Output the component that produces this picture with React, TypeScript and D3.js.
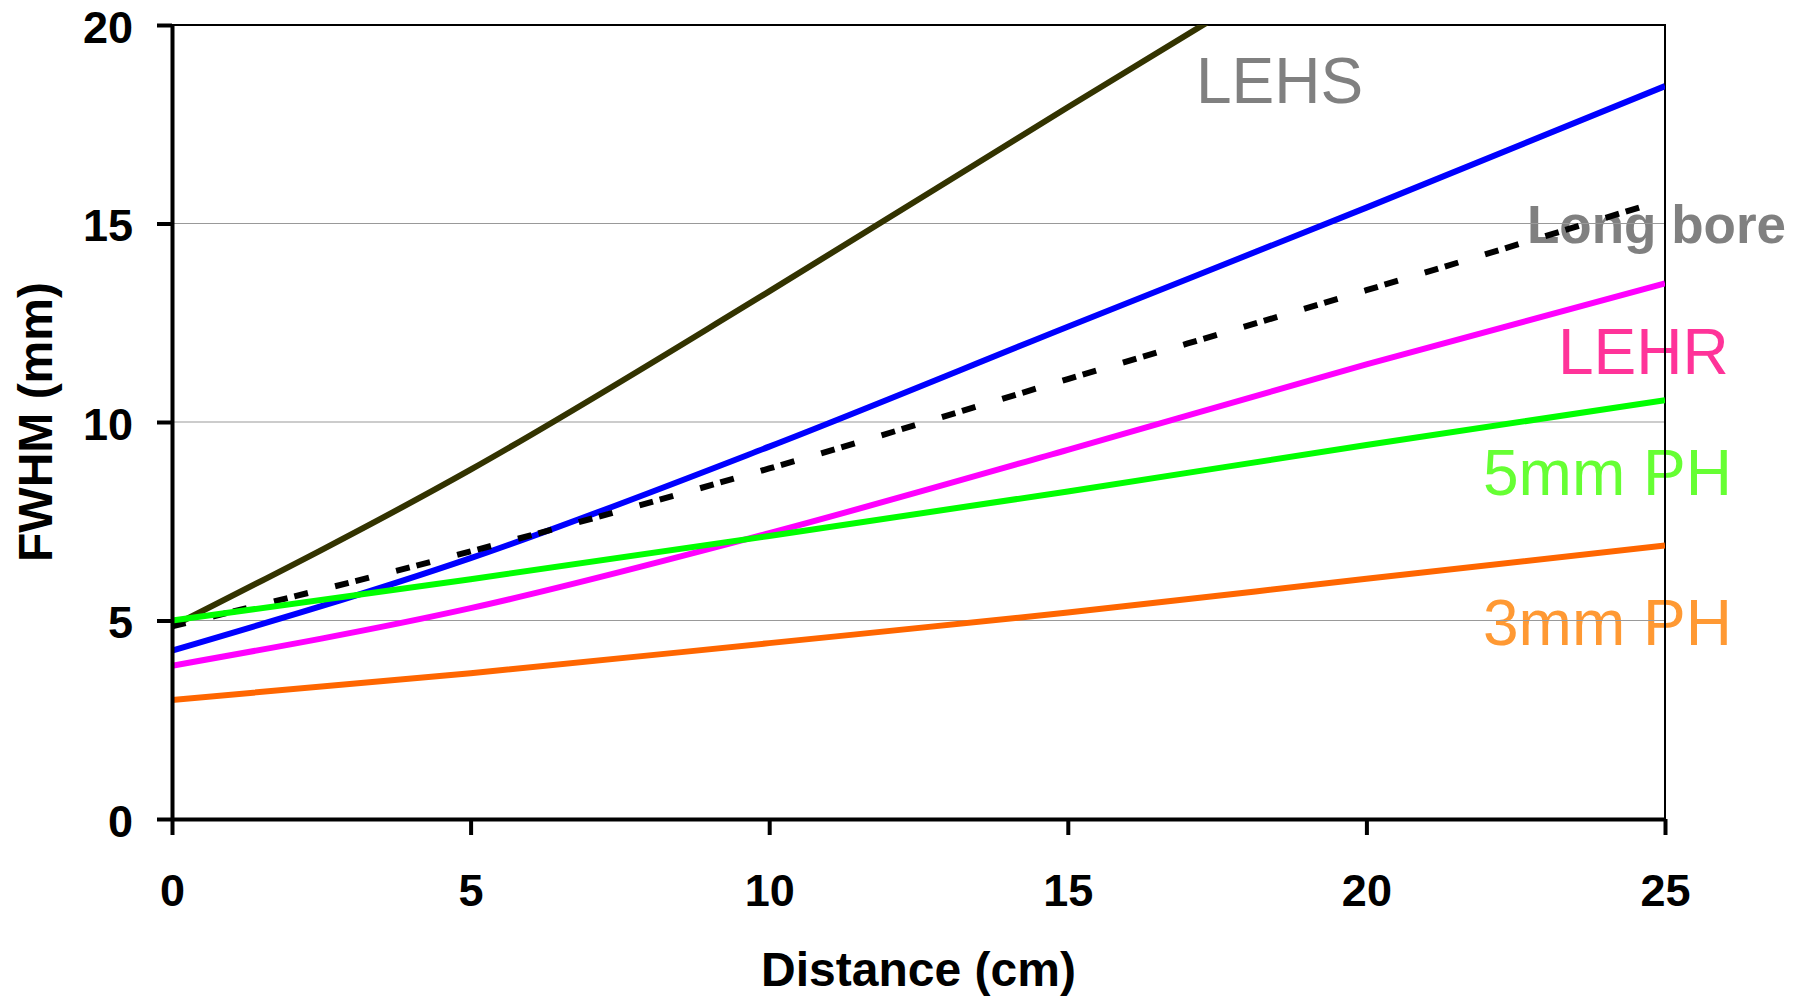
import React, { useRef, useEffect } from "react";
import * as d3 from "d3";

// distance from collimator face (cm) and FWHM (mm)
const distance = [0, 5, 10, 15, 20, 25];
const lehs = [4.85, 8.8, 13.29, 17.93, 22.5, 27.1];
const blueCurve = [4.24, 6.57, 9.38, 12.4, 15.4, 18.46];
const longBore = [4.85, 6.74, 8.83, 11.08, 13.32, 15.6];
const lehr = [3.86, 5.31, 7.2, 9.3, 11.45, 13.49];
const pinhole5 = [5.0, 6.04, 7.13, 8.25, 9.42, 10.55];
const pinhole3 = [3.0, 3.67, 4.43, 5.2, 6.05, 6.89];

const xTicks = [0, 5, 10, 15, 20, 25];
const yTicks = [0, 5, 10, 15, 20];

const W = 1794;
const H = 997;
const margin = { top: 25, right: 129, bottom: 178, left: 172 };
const FONT = "'Liberation Sans', Arial, Helvetica, sans-serif";

const series = [
  { values: lehs, color: "#333300", dash: null },
  { values: blueCurve, color: "#0000FF", dash: null },
  { values: longBore, color: "#000000", dash: "14 28 14 7" },
  { values: lehr, color: "#FF00FF", dash: null },
  { values: pinhole5, color: "#00FF00", dash: null },
  { values: pinhole3, color: "#FF6600", dash: null },
];

const labels = [
  { text: "LEHS", x: 1196, y: 103, color: "#808080", weight: "normal", size: 64 },
  { text: "Long bore", x: 1527, y: 243, color: "#808080", weight: "bold", size: 53 },
  { text: "LEHR", x: 1558, y: 374, color: "#FF3399", weight: "normal", size: 64 },
  { text: "5mm PH", x: 1483, y: 495, color: "#66FF33", weight: "normal", size: 64 },
  { text: "3mm PH", x: 1483, y: 645, color: "#FF9933", weight: "normal", size: 64 },
];

const App = () => {
  const svgRef = useRef<SVGSVGElement>(null);

  useEffect(() => {
    const svg = d3.select(svgRef.current);
    svg.selectAll("*").remove();

    const x0 = margin.left;
    const x1 = W - margin.right;
    const y0 = H - margin.bottom;
    const y1 = margin.top;

    const xScale = d3.scaleLinear().domain([0, 25]).range([x0, x1]);
    const yScale = d3.scaleLinear().domain([0, 20]).range([y0, y1]);

    svg.append("rect").attr("width", W).attr("height", H).attr("fill", "#fff");

    // series labels sit under the plot lines
    svg
      .selectAll(".lab")
      .data(labels)
      .join("text")
      .attr("class", "lab")
      .attr("x", (d) => d.x)
      .attr("y", (d) => d.y)
      .attr("fill", (d) => d.color)
      .attr("font-weight", (d) => d.weight)
      .attr("font-size", (d) => d.size)
      .attr("font-family", FONT)
      .text((d) => d.text);

    // grid
    svg
      .selectAll(".grid")
      .data(yTicks.filter((t) => t > 0 && t < 20))
      .join("line")
      .attr("class", "grid")
      .attr("x1", x0)
      .attr("x2", x1)
      .attr("y1", (d) => yScale(d))
      .attr("y2", (d) => yScale(d))
      .attr("stroke", "#999")
      .attr("stroke-width", 1);

    // plot frame (top + right)
    svg
      .append("path")
      .attr("d", `M${x0},${y1}H${x1}V${y0}`)
      .attr("fill", "none")
      .attr("stroke", "#000")
      .attr("stroke-width", 2);

    svg
      .append("clipPath")
      .attr("id", "plot-clip")
      .append("rect")
      .attr("x", x0)
      .attr("y", y1)
      .attr("width", x1 - x0)
      .attr("height", y0 - y1);

    const line = d3
      .line<number>()
      .x((d, i) => xScale(distance[i]))
      .y((d) => yScale(d))
      .curve(d3.curveMonotoneX);

    svg
      .append("g")
      .attr("clip-path", "url(#plot-clip)")
      .selectAll("path")
      .data(series)
      .join("path")
      .attr("d", (d) => line(d.values))
      .attr("fill", "none")
      .attr("stroke", (d) => d.color)
      .attr("stroke-width", 6)
      .attr("stroke-dasharray", (d) => d.dash);

    const yAxis = d3
      .axisLeft(yScale)
      .tickValues(yTicks)
      .tickSize(15)
      .tickSizeOuter(0)
      .tickPadding(24)
      .tickFormat(d3.format("d"));
    const gy = svg.append("g").attr("transform", `translate(${x0},0)`).call(yAxis);
    gy.selectAll(".tick text").attr("dy", "0.38em");

    const xAxis = d3
      .axisBottom(xScale)
      .tickValues(xTicks)
      .tickSize(16)
      .tickSizeOuter(0)
      .tickPadding(39)
      .tickFormat(d3.format("d"));
    const gx = svg.append("g").attr("transform", `translate(0,${y0})`).call(xAxis);

    [gx, gy].forEach((g) => {
      g.select(".domain").attr("stroke", "#000").attr("stroke-width", 4);
      g.selectAll(".tick line").attr("stroke", "#000").attr("stroke-width", 4);
      g.selectAll(".tick text")
        .attr("fill", "#000")
        .attr("font-size", 45)
        .attr("font-weight", "bold")
        .attr("font-family", FONT);
    });

    svg
      .append("text")
      .attr("x", (x0 + x1) / 2)
      .attr("y", 986)
      .attr("text-anchor", "middle")
      .attr("font-size", 48)
      .attr("font-weight", "bold")
      .attr("font-family", FONT)
      .text("Distance (cm)");

    svg
      .append("text")
      .attr("transform", `translate(52,${(y0 + y1) / 2}) rotate(-90)`)
      .attr("text-anchor", "middle")
      .attr("font-size", 48)
      .attr("font-weight", "bold")
      .attr("font-family", FONT)
      .text("FWHM (mm)");
  }, []);

  return (
    <svg
      ref={svgRef}
      width={W}
      height={H}
      style={{ position: "absolute", left: 0, top: 0, display: "block" }}
    />
  );
};

export default App;
